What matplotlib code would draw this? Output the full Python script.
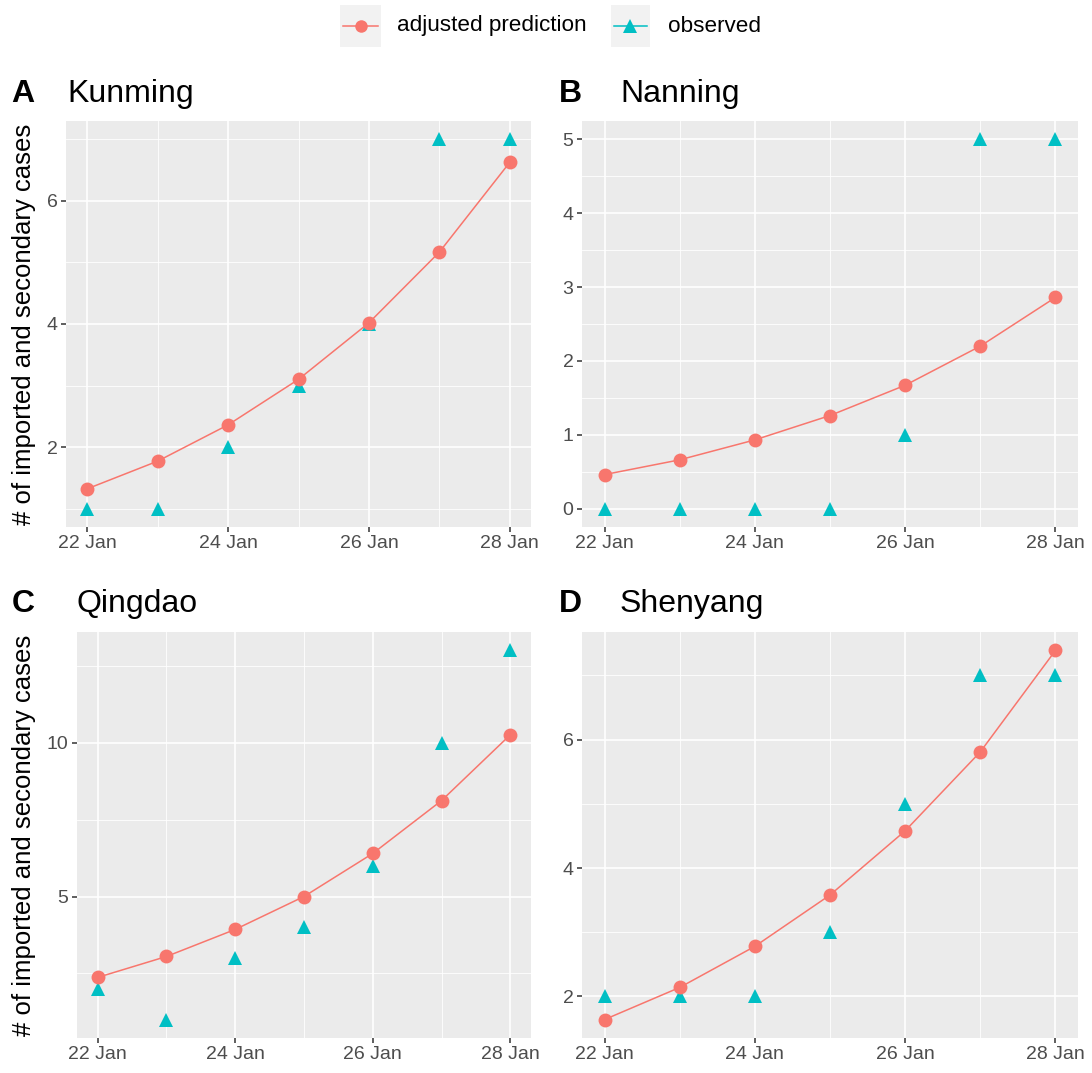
import numpy as np
import matplotlib
matplotlib.use("Agg")
import matplotlib.pyplot as plt
import matplotlib.dates as mdates
from matplotlib.ticker import MultipleLocator
from matplotlib.lines import Line2D
from matplotlib.patches import Rectangle

plt.rcParams['font.family'] = ['Liberation Sans', 'DejaVu Sans']

# data
dates = np.array(['2020-01-22', '2020-01-23', '2020-01-24', '2020-01-25',
                  '2020-01-26', '2020-01-27', '2020-01-28'], dtype='datetime64[D]')
panel_labels = ["A", "B", "C", "D"]
cities = ["Kunming", "Nanning", "Qingdao", "Shenyang"]

kunming_pred = [1.32, 1.77, 2.36, 3.10, 4.02, 5.17, 6.63]
kunming_obs = [1, 1, 2, 3, 4, 7, 7]
nanning_pred = [0.46, 0.66, 0.93, 1.26, 1.67, 2.20, 2.86]
nanning_obs = [0, 0, 0, 0, 1, 5, 5]
qingdao_pred = [2.37, 3.05, 3.93, 5.00, 6.40, 8.12, 10.26]
qingdao_obs = [2, 1, 3, 4, 6, 10, 13]
shenyang_pred = [1.64, 2.14, 2.78, 3.58, 4.58, 5.81, 7.39]
shenyang_obs = [2, 2, 2, 3, 5, 7, 7]

preds = [kunming_pred, nanning_pred, qingdao_pred, shenyang_pred]
obs = [kunming_obs, nanning_obs, qingdao_obs, shenyang_obs]
y_steps = [2, 1, 5, 2]

RED = "#F8766D"
TEAL = "#00BFC4"
W, H = 1092, 1073

fig = plt.figure(figsize=(W / 100, H / 100), dpi=100)

# panel boxes in pixels: left, right, top, bottom
boxes = [(66, 531, 121, 527), (582, 1078, 121, 527),
         (77, 531, 632, 1038), (582, 1078, 632, 1038)]
# title positions in pixels: label x, title x, baseline y
title_pos = [(11, 67, 102), (559, 620, 102), (12, 77, 612), (559, 620, 612)]


def px_axes(l, r, t, b):
    return fig.add_axes([l / W, 1 - b / H, (r - l) / W, (b - t) / H])


x = mdates.date2num(dates.astype('datetime64[s]').astype(object))

for i in range(4):
    ax = px_axes(*boxes[i])
    ax.set_facecolor("#EBEBEB")
    for s in ax.spines.values():
        s.set_visible(False)
    ax.set_axisbelow(True)

    ax.plot(x, obs[i], linestyle='none', marker='^', markersize=10.5,
            color=TEAL, markeredgewidth=0, zorder=3)
    ax.plot(x, preds[i], color=RED, linewidth=1.1, zorder=4)
    ax.plot(x, preds[i], linestyle='none', marker='o', markersize=10,
            color=RED, markeredgewidth=0, zorder=5)

    # ggplot-like 5% expansion
    xr = x.max() - x.min()
    ax.set_xlim(x.min() - 0.05 * xr, x.max() + 0.05 * xr)
    lo = min(min(obs[i]), min(preds[i]))
    hi = max(max(obs[i]), max(preds[i]))
    yr = hi - lo
    ax.set_ylim(lo - 0.05 * yr, hi + 0.05 * yr)

    ax.xaxis.set_major_locator(mdates.DayLocator(bymonthday=[22, 24, 26, 28]))
    ax.xaxis.set_minor_locator(mdates.DayLocator())
    ax.xaxis.set_major_formatter(mdates.DateFormatter("%d %b"))
    ax.yaxis.set_major_locator(MultipleLocator(y_steps[i]))
    ax.yaxis.set_minor_locator(MultipleLocator(y_steps[i] / 2))

    ax.grid(which='major', color='white', linewidth=1.2)
    ax.grid(which='minor', color='white', linewidth=0.6)
    ax.tick_params(which='major', length=3.6, width=1.1, color='#333333',
                   labelcolor='#4D4D4D', labelsize=14, pad=2.5)
    ax.tick_params(which='minor', length=0)

    lx, tx, ty = title_pos[i]
    fig.text(lx / W, 1 - ty / H, panel_labels[i], fontsize=23,
             fontweight='bold', ha='left', va='baseline')
    fig.text(tx / W, 1 - ty / H, cities[i], fontsize=23,
             ha='left', va='baseline')

    if i in (0, 2):
        l, r, t, b = boxes[i]
        fig.text(24 / W, 1 - (t + b) / 2 / H,
                 "# of imported and secondary cases", rotation=90,
                 fontsize=18.5, ha='center', va='center')

# legend drawn by hand to get ggplot's grey key boxes
keys = [(340, 41, RED, 'o', 9, "adjusted prediction", 397),
        (611, 39, TEAL, '^', 10, "observed", 668)]
for kx, kw, col, mk, ms, txt, tx in keys:
    fig.add_artist(Rectangle((kx / W, 1 - 47 / H), kw / W, 42 / H,
                             transform=fig.transFigure, facecolor="#F2F2F2",
                             edgecolor='none'))
    fig.add_artist(Line2D([(kx + 3) / W, (kx + kw - 3) / W],
                          [1 - 26 / H, 1 - 26 / H], transform=fig.transFigure,
                          color=col, linewidth=1.1))
    fig.add_artist(Line2D([(kx + kw / 2) / W], [1 - 26 / H],
                          transform=fig.transFigure, color=col, marker=mk,
                          markersize=ms, markeredgewidth=0, linestyle='none'))
    fig.text(tx / W, 1 - 26 / H, txt, fontsize=16.2, ha='left', va='center')

fig.savefig("out.png", dpi=100)
